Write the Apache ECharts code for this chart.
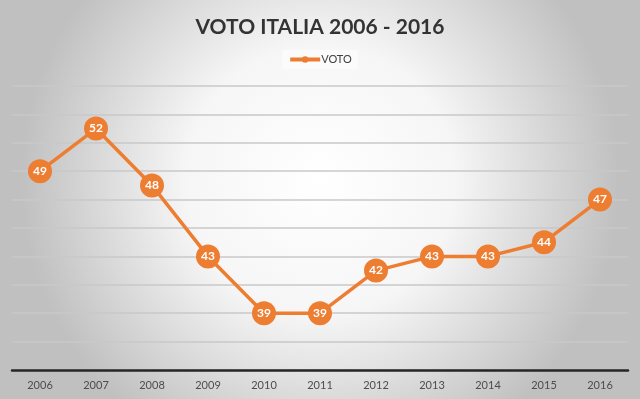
<!DOCTYPE html>
<html>
<head>
<meta charset="utf-8">
<script src="https://cdn.jsdelivr.net/npm/echarts@6/dist/echarts.min.js"></script>
<style>
  html, body { margin: 0; padding: 0; }
  #chart { width: 640px; height: 399px; }
</style>
</head>
<body>
<div id="chart"></div>
<script>
  // dati
  var years = ['2006', '2007', '2008', '2009', '2010', '2011', '2012', '2013', '2014', '2015', '2016'];
  var voto = [49, 52, 48, 43, 39, 39, 42, 43, 43, 44, 47];

  var chart = echarts.init(document.getElementById('chart'));

  var option = {
    animation: false,
    backgroundColor: {
      type: 'radial', x: 0.5, y: 0.45, r: 0.75,
      colorStops: [
        { offset: 0, color: '#ffffff' },
        { offset: 0.45, color: '#f6f6f6' },
        { offset: 1, color: '#c0c0c0' }
      ]
    },
    title: {
      text: 'VOTO ITALIA 2006 - 2016',
      left: 'center',
      top: 12,
      textStyle: { fontFamily: 'Lato', fontSize: 21, fontWeight: 'bold', color: '#333333' }
    },
    legend: {
      top: 50,
      left: 'center',
      itemWidth: 30,
      itemHeight: 8,
      itemGap: 2,
      backgroundColor: 'rgba(255,255,255,0.5)',
      padding: [4, 6],
      lineStyle: { width: 4 },
      textStyle: { fontFamily: 'Lato', fontSize: 11, color: '#404040', padding: [0, 0, 0, -4] },
      data: ['VOTO']
    },
    grid: { left: 12, right: 12, top: 86, bottom: 29 },
    xAxis: {
      type: 'category',
      data: years,
      axisTick: { show: false },
      axisLine: { lineStyle: { color: '#262626', width: 2.5 } },
      axisLabel: { fontFamily: 'Lato', fontSize: 11, color: '#4d4d4d', margin: 10 }
    },
    yAxis: {
      type: 'value',
      min: 35,
      max: 55,
      interval: 2,
      axisLabel: { show: false },
      axisLine: { show: false },
      axisTick: { show: false },
      splitLine: { lineStyle: { color: '#c8c8c8', width: 1.5 } }
    },
    series: [{
      name: 'VOTO',
      type: 'line',
      data: voto,
      symbol: 'circle',
      symbolSize: 24,
      lineStyle: { color: '#ED7D31', width: 3.5 },
      itemStyle: { color: '#ED7D31' },
      label: {
        show: true,
        position: 'inside',
        fontFamily: 'Lato',
        fontWeight: 'bold',
        fontSize: 12,
        color: '#ffffff'
      }
    }]
  };

  chart.setOption(option);
</script>
</body>
</html>
